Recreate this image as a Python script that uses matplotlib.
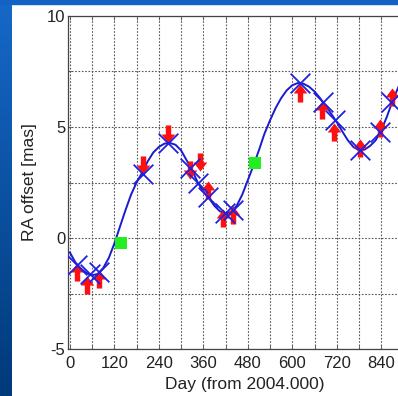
import numpy as np
import matplotlib
matplotlib.use("Agg")
import matplotlib.pyplot as plt
from matplotlib.path import Path
from matplotlib.ticker import MultipleLocator, FuncFormatter

plt.rcParams['font.family'] = ['Liberation Sans', 'DejaVu Sans']

# fitted model
fit_day = [0, 15, 30, 45, 60, 75, 90, 105, 120, 135, 150, 165, 180, 195, 210,
           225, 240, 255, 270, 285, 300, 315, 330, 345, 360, 375, 390, 405, 420,
           435, 450, 465, 480, 495, 510, 525, 540, 555, 570, 585, 600, 615, 630,
           645, 660, 675, 690, 705, 720, 735, 750, 765, 780, 795, 810, 825, 840,
           855, 870, 885, 900]
fit_ra = [-0.65, -1.1, -1.38, -1.58, -1.68, -1.62, -1.35, -0.9, -0.25, 0.5,
          1.25, 1.95, 2.5, 2.95, 3.45, 3.85, 4.1, 4.25, 4.28, 4.2, 3.95, 3.5,
          3.05, 2.5, 2.1, 1.8, 1.45, 1.2, 1.1, 1.18, 1.45, 1.95, 2.6, 3.25,
          3.95, 4.7, 5.3, 5.85, 6.3, 6.65, 6.88, 6.98, 6.95, 6.82, 6.6, 6.3,
          5.95, 5.6, 5.22, 4.8, 4.4, 4.1, 3.95, 3.98, 4.15, 4.4, 4.85, 5.45,
          6.15, 6.75, 7.3]

# model positions at epochs
model_day = [18, 54, 79, 196, 265, 324, 346, 373, 418, 440, 620, 683, 715, 782, 836, 867]
model_ra = [-1.22, -1.6, -1.52, 2.9, 4.26, 3.15, 2.46, 1.86, 1.11, 1.26,
            6.97, 6.14, 5.32, 3.96, 4.79, 6.14]

# measured positions, arrows
down_day = [196, 265, 324, 350]
down_ra = [3.29, 4.7, 3.06, 3.44]
up_day = [18, 47, 78, 373, 414, 440, 620, 679, 713, 782, 836, 870]
up_ra = [-1.55, -2.1, -1.85, 2.16, 0.89, 1.04, 6.52, 5.77, 4.79, 4.04, 4.94, 6.37]

# other epochs
green_day = [139, 499]
green_ra = [-0.21, 3.36]

up_arrow = Path([(-0.3, -1), (0.3, -1), (0.3, 0), (0.75, 0), (0, 1),
                 (-0.75, 0), (-0.3, 0), (-0.3, -1)],
                [Path.MOVETO] + [Path.LINETO] * 6 + [Path.CLOSEPOLY])
down_arrow = Path(up_arrow.vertices * np.array([1, -1]), up_arrow.codes)

fig = plt.figure(figsize=(3.98, 3.96), dpi=100, facecolor='white')

# slide background strips
bg = fig.add_axes([0, 0, 12 / 398, 1])
bg.imshow(np.linspace(0, 1, 100).reshape(-1, 1), aspect='auto',
          cmap=matplotlib.colors.LinearSegmentedColormap.from_list('s', ['#1668c8', '#003a7a']))
bg.axis('off')
fig.patches.append(matplotlib.patches.Rectangle((0, 1 - 4 / 396), 1, 4 / 396,
                   transform=fig.transFigure, color='#1462c4', zorder=0))

ax = fig.add_axes([68 / 398, 47 / 396, 354 / 398, 333 / 396])
ax.plot(fit_day, fit_ra, color='#1a1ad0', lw=1.4, zorder=3)
ax.scatter(down_day, down_ra, marker=down_arrow, s=170, color='#ff1010', lw=0, zorder=4)
ax.scatter(up_day, up_ra, marker=up_arrow, s=170, color='#ff1010', lw=0, zorder=4)
ax.scatter(model_day, model_ra, marker='x', s=200, color='#2020e0', lw=1.3, zorder=5)
ax.scatter(green_day, green_ra, marker='s', s=65, color='#22ee22', lw=0, zorder=4)

ax.set_xlim(-5, 950)
ax.set_ylim(-5, 10)
ax.xaxis.set_major_locator(MultipleLocator(60))
ax.yaxis.set_major_locator(MultipleLocator(2.5))
ax.xaxis.set_major_formatter(FuncFormatter(lambda v, p: '%d' % v if v % 120 == 0 and v < 900 else ''))
ax.yaxis.set_major_formatter(FuncFormatter(lambda v, p: '%d' % v if v % 5 == 0 else ''))
ax.tick_params(direction='in', length=3, width=0.6, color='#555555', labelsize=12,
               labelcolor='#222222', top=True, right=True, pad=2)
ax.tick_params(axis='x', pad=5)
ax.grid(True, linestyle=(0, (1.5, 1.5)), color='#555555', lw=0.8)
for s in ax.spines.values():
    s.set_color('#444444')
    s.set_linewidth(0.9)

ax.set_xlabel('Day (from 2004.000)', fontsize=12.5, color='#222222', labelpad=4)
ax.set_ylabel('RA offset [mas]', fontsize=12.5, color='#222222', labelpad=7)

fig.savefig('out.png', dpi=100)
